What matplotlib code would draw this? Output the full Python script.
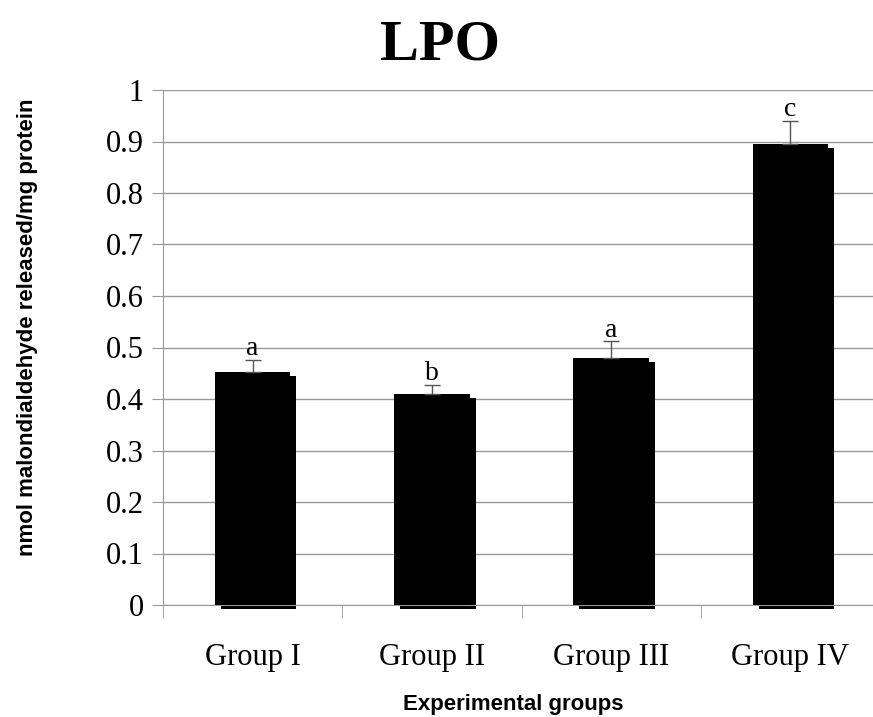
import matplotlib
matplotlib.use("Agg")
import matplotlib.pyplot as plt
import numpy as np

groups = ['Group I', 'Group II', 'Group III', 'Group IV']
lpo = [0.452, 0.410, 0.480, 0.895]
sem = [0.024, 0.018, 0.032, 0.045]
letters = ['a', 'b', 'a', 'c']

serif = 'Liberation Serif'
sans = 'Liberation Sans'

fig = plt.figure(figsize=(8.73, 7.17), dpi=100)
ax = fig.add_axes([163 / 873, 112 / 717, 717 / 873, 515 / 717])

x = np.arange(len(groups))
w = 0.42

# shadow behind each bar (offset right/down a few pixels)
shift = matplotlib.transforms.ScaledTranslation(6 / 100, -4 / 100, fig.dpi_scale_trans)
for xi, v in zip(x, lpo):
    shadow = ax.bar(xi, v, width=w, color='black', zorder=2)[0]
    shadow.set_transform(ax.transData + shift)
    shadow.set_clip_on(False)
ax.bar(x, lpo, width=w, color='black', zorder=3)
ax.errorbar(x, lpo, yerr=[np.zeros(len(sem)), sem], fmt='none', ecolor='#555555',
            elinewidth=1, capsize=6, capthick=1, zorder=4)

for xi, v, s, l in zip(x, lpo, sem, letters):
    ax.annotate(l, (xi, v + s), xytext=(0, -1), textcoords='offset points',
                ha='center', va='bottom', fontsize=20, family=serif)

ax.set_xlim(-0.5, 3.5)
ax.set_ylim(0, 1)
ax.set_yticks(np.arange(0, 1.01, 0.1))
ax.set_yticklabels(['0', '0.1', '0.2', '0.3', '0.4', '0.5', '0.6', '0.7', '0.8', '0.9', '1'],
                   family=serif, fontsize=22)
ax.set_xticks(x)
ax.set_xticklabels(groups, family=serif, fontsize=22)
ax.set_xticks(np.arange(-0.5, 4.0, 1.0), minor=True)
ax.tick_params(axis='x', which='major', length=0, pad=27)
ax.tick_params(axis='x', which='minor', length=9, color='#999999', direction='out')
ax.tick_params(axis='y', length=8, color='#999999', pad=6)

ax.yaxis.grid(True, color='#999999', linewidth=1)
ax.set_axisbelow(True)
for side in ['top', 'right']:
    ax.spines[side].set_visible(False)
ax.spines['left'].set_color('#999999')
ax.spines['bottom'].set_color('#999999')

fig.text(440 / 873, 1 - 45 / 717, 'LPO', family=serif, fontweight='bold', fontsize=42,
         ha='center', va='center')
ax.set_xlabel('Experimental groups', family=sans, fontweight='bold', fontsize=16)
ax.xaxis.set_label_coords((513 - 163) / 717, -(694 - 605) / 515)
ax.set_ylabel('nmol malondialdehyde released/mg protein', family=sans, fontweight='bold',
              fontsize=16)
ax.yaxis.set_label_coords((38 - 163) / 717, (605 - 327) / 515)

fig.savefig('out.png', dpi=100)
